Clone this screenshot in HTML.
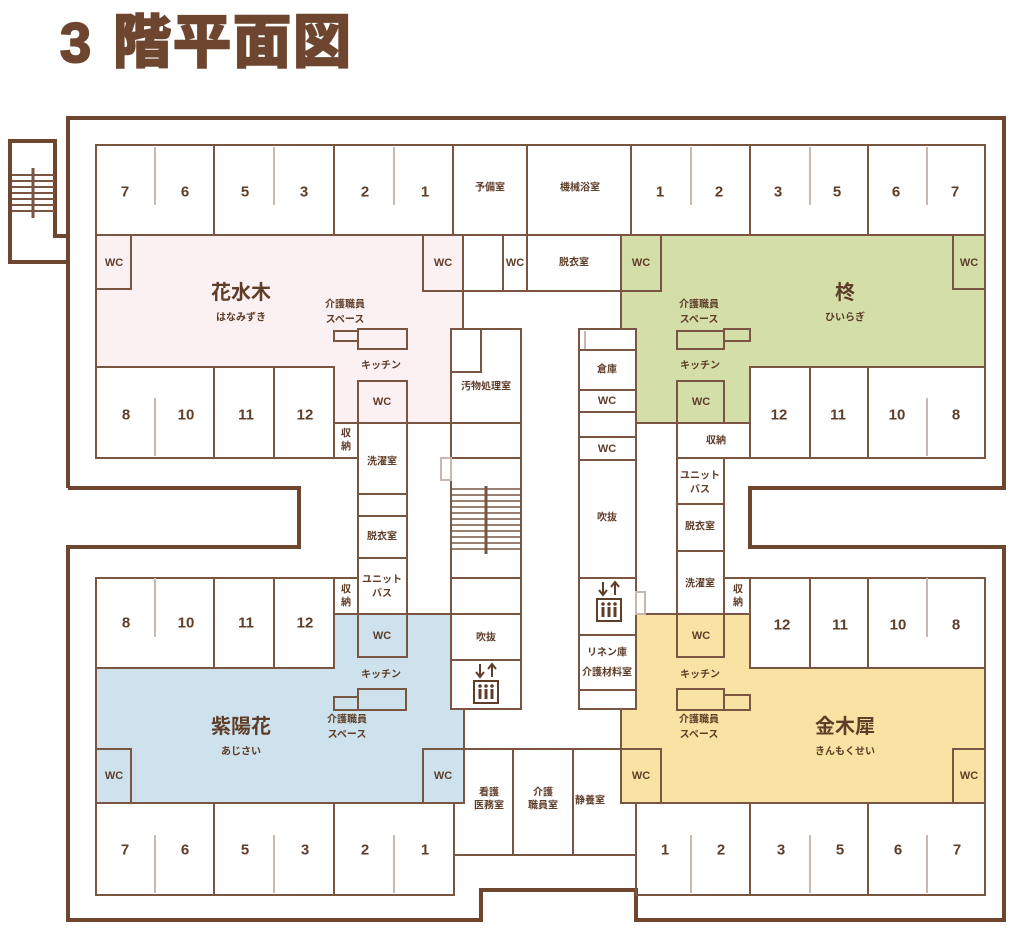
<!DOCTYPE html>
<html><head><meta charset="utf-8"><style>
html,body{margin:0;padding:0;background:#fff;}
svg{display:block;}
text{font-family:"Liberation Sans","Noto Sans CJK JP",sans-serif;font-weight:bold;fill:#5e3d29;}
</style></head><body>
<svg width="1024" height="932" viewBox="0 0 1024 932" xmlns="http://www.w3.org/2000/svg">
<text x="60" y="62" font-size="56" style="fill:#6e4630;stroke:#6e4630;stroke-width:2" font-family="Liberation Sans">3</text>
<text x="113" y="62" font-size="58" style="fill:#6e4630;stroke:#6e4630;stroke-width:2.5;letter-spacing:2px" font-family="Noto Sans CJK JP">階平面図</text>

<!-- colored zones -->
<polygon points="96,235 463,235 463,329 451,329 451,423 334,423 334,367 96,367" fill="#fcf1f2"/>
<polygon points="621,235 985,235 985,367 750,367 750,423 636,423 636,329 621,329" fill="#d3dea9"/>
<polygon points="96,668 334,668 334,614 451,614 451,709 464,709 464,803 96,803" fill="#cde2ec"/>
<polygon points="636,614 750,614 750,668 985,668 985,803 621,803 621,709 636,709" fill="#f8e3a4"/>

<!-- outer wall -->
<g fill="none" stroke="#6e4630" stroke-width="4">
<polyline points="68,488 68,118 1004,118 1004,488 750,488 750,547 1004,547 1004,920 636,920 636,890 481,890 481,920 68,920 68,547 299,547 299,488 68,488"/>
<polyline points="68,236 55,236 55,141 10,141 10,262 68,262"/>
</g>
<g stroke="#7a5642" stroke-width="2">
<line x1="12" y1="175" x2="55" y2="175"/><line x1="12" y1="181" x2="55" y2="181"/><line x1="12" y1="187" x2="55" y2="187"/><line x1="12" y1="193" x2="55" y2="193"/><line x1="12" y1="199" x2="55" y2="199"/><line x1="12" y1="205" x2="55" y2="205"/><line x1="12" y1="211" x2="55" y2="211"/>
<line x1="33" y1="168" x2="33" y2="218" stroke-width="3"/>
</g>

<g fill="none" stroke="#7a5642" stroke-width="2">
<rect x="96" y="145" width="889" height="90"/>
<line x1="214" y1="145" x2="214" y2="235"/><line x1="334" y1="145" x2="334" y2="235"/><line x1="453" y1="145" x2="453" y2="235"/><line x1="527" y1="145" x2="527" y2="291"/><line x1="631" y1="145" x2="631" y2="235"/><line x1="750" y1="145" x2="750" y2="235"/><line x1="868" y1="145" x2="868" y2="235"/>
<polyline points="96,235 96,367 334,367 334,458"/>
<line x1="463" y1="235" x2="463" y2="329"/>
<rect x="96" y="235" width="35" height="54"/><rect x="423" y="235" width="40" height="56"/>
<rect x="334" y="331" width="24" height="10"/><rect x="358" y="329" width="49" height="20"/>
<rect x="358" y="381" width="49" height="42"/>
<line x1="334" y1="423" x2="521" y2="423"/>
<rect x="96" y="367" width="238" height="91"/>
<line x1="214" y1="367" x2="214" y2="458"/><line x1="274" y1="367" x2="274" y2="458"/>
<line x1="463" y1="291" x2="621" y2="291"/>
<rect x="503" y="235" width="24" height="56"/><line x1="527" y1="235" x2="621" y2="235"/>
<line x1="334" y1="458" x2="358" y2="458"/>
<line x1="358" y1="423" x2="358" y2="657"/><line x1="407" y1="423" x2="407" y2="657"/>
<line x1="358" y1="494" x2="407" y2="494"/><line x1="358" y1="516" x2="407" y2="516"/><line x1="358" y1="558" x2="407" y2="558"/>
<rect x="334" y="578" width="24" height="36"/>
<line x1="334" y1="614" x2="451" y2="614"/>
<rect x="358" y="614" width="49" height="43"/>
<rect x="451" y="329" width="70" height="380"/>
<rect x="451" y="329" width="30" height="43"/>
<line x1="451" y1="458" x2="521" y2="458"/><line x1="451" y1="578" x2="521" y2="578"/><line x1="451" y1="614" x2="521" y2="614"/><line x1="451" y1="660" x2="521" y2="660"/>
<rect x="579" y="329" width="57" height="380"/>
<line x1="585" y1="331" x2="585" y2="350" stroke="#c9b8ad"/>
<line x1="579" y1="350" x2="636" y2="350"/><line x1="579" y1="390" x2="636" y2="390"/><line x1="579" y1="412" x2="636" y2="412"/><line x1="579" y1="437" x2="636" y2="437"/><line x1="579" y1="460" x2="636" y2="460"/><line x1="579" y1="578" x2="636" y2="578"/><line x1="579" y1="635" x2="636" y2="635"/><line x1="579" y1="690" x2="636" y2="690"/>
<polyline points="621,235 621,329"/>
<rect x="621" y="235" width="40" height="56"/><rect x="953" y="235" width="32" height="54"/>
<rect x="677" y="331" width="47" height="18"/><rect x="724" y="329" width="26" height="12"/>
<rect x="677" y="381" width="47" height="42"/>
<line x1="985" y1="235" x2="985" y2="367"/>
<rect x="750" y="367" width="235" height="91"/>
<line x1="810" y1="367" x2="810" y2="458"/><line x1="868" y1="367" x2="868" y2="458"/>
<line x1="636" y1="423" x2="750" y2="423"/><line x1="677" y1="458" x2="750" y2="458"/>
<line x1="677" y1="423" x2="677" y2="657"/><line x1="724" y1="458" x2="724" y2="657"/>
<line x1="677" y1="504" x2="724" y2="504"/><line x1="677" y1="551" x2="724" y2="551"/>
<rect x="724" y="578" width="26" height="36"/>
<line x1="636" y1="614" x2="750" y2="614"/>
<rect x="677" y="614" width="47" height="43"/>
<rect x="96" y="578" width="238" height="90"/>
<line x1="214" y1="578" x2="214" y2="668"/><line x1="274" y1="578" x2="274" y2="668"/>
<line x1="451" y1="709" x2="464" y2="709"/><line x1="464" y1="709" x2="464" y2="803"/>
<rect x="96" y="749" width="35" height="54"/><rect x="423" y="749" width="41" height="54"/>
<rect x="334" y="697" width="24" height="13"/><rect x="358" y="689" width="48" height="21"/>
<line x1="96" y1="668" x2="96" y2="895"/>
<rect x="96" y="803" width="358" height="92"/>
<line x1="214" y1="803" x2="214" y2="895"/><line x1="334" y1="803" x2="334" y2="895"/>
<line x1="454" y1="855" x2="636" y2="855"/>
<line x1="464" y1="749" x2="621" y2="749"/>
<line x1="513" y1="749" x2="513" y2="855"/><line x1="573" y1="749" x2="573" y2="855"/>
<line x1="621" y1="709" x2="636" y2="709"/><line x1="621" y1="709" x2="621" y2="803"/>
<rect x="750" y="578" width="235" height="90"/>
<line x1="810" y1="578" x2="810" y2="668"/><line x1="868" y1="578" x2="868" y2="668"/>
<line x1="985" y1="668" x2="985" y2="803"/>
<rect x="621" y="749" width="40" height="54"/><rect x="953" y="749" width="32" height="54"/>
<rect x="677" y="689" width="47" height="21"/><rect x="724" y="695" width="26" height="15"/>
<rect x="636" y="803" width="349" height="92"/>
<line x1="750" y1="803" x2="750" y2="895"/><line x1="868" y1="803" x2="868" y2="895"/>
<line x1="621" y1="803" x2="636" y2="803"/>
</g>
<g stroke="#c9b8ad" stroke-width="2" fill="none">
<line x1="155" y1="147" x2="155" y2="205"/><line x1="274" y1="147" x2="274" y2="205"/><line x1="394" y1="147" x2="394" y2="205"/>
<line x1="691" y1="147" x2="691" y2="205"/><line x1="810" y1="147" x2="810" y2="205"/><line x1="927" y1="147" x2="927" y2="205"/>
<line x1="155" y1="398" x2="155" y2="456"/><line x1="927" y1="398" x2="927" y2="456"/>
<line x1="155" y1="578" x2="155" y2="637"/><line x1="927" y1="578" x2="927" y2="637"/>
<line x1="155" y1="835" x2="155" y2="893"/><line x1="274" y1="835" x2="274" y2="893"/><line x1="394" y1="835" x2="394" y2="893"/>
<line x1="691" y1="835" x2="691" y2="893"/><line x1="810" y1="835" x2="810" y2="893"/><line x1="927" y1="835" x2="927" y2="893"/>
<rect x="441" y="458" width="10" height="22"/><rect x="636" y="592" width="9" height="22"/>
</g>
<g stroke="#7a5642" stroke-width="1.5">
<line x1="451" y1="489" x2="521" y2="489"/><line x1="451" y1="495" x2="521" y2="495"/><line x1="451" y1="501" x2="521" y2="501"/><line x1="451" y1="507" x2="521" y2="507"/><line x1="451" y1="513" x2="521" y2="513"/><line x1="451" y1="519" x2="521" y2="519"/><line x1="451" y1="525" x2="521" y2="525"/><line x1="451" y1="531" x2="521" y2="531"/><line x1="451" y1="537" x2="521" y2="537"/><line x1="451" y1="543" x2="521" y2="543"/><line x1="451" y1="549" x2="521" y2="549"/>
<line x1="486" y1="486" x2="486" y2="554" stroke-width="3"/>
</g>
<g stroke="#5e3d29" fill="none" stroke-width="2">
<path d="M480,664 v12 M476,672 l4,5 4,-5 M492,677 v-12 M488,669 l4,-5 4,5"/>
<rect x="474" y="681" width="24" height="22"/>
<g fill="#5e3d29" stroke="none"><circle cx="480" cy="686" r="1.8"/><circle cx="486" cy="686" r="1.8"/><circle cx="492" cy="686" r="1.8"/><rect x="478.5" y="689" width="3" height="10"/><rect x="484.5" y="689" width="3" height="10"/><rect x="490.5" y="689" width="3" height="10"/></g>
</g>
<g stroke="#5e3d29" fill="none" stroke-width="2" transform="translate(123,-82)">
<path d="M480,664 v12 M476,672 l4,5 4,-5 M492,677 v-12 M488,669 l4,-5 4,5"/>
<rect x="474" y="681" width="24" height="22"/>
<g fill="#5e3d29" stroke="none"><circle cx="480" cy="686" r="1.8"/><circle cx="486" cy="686" r="1.8"/><circle cx="492" cy="686" r="1.8"/><rect x="478.5" y="689" width="3" height="10"/><rect x="484.5" y="689" width="3" height="10"/><rect x="490.5" y="689" width="3" height="10"/></g>
</g>

<g text-anchor="middle" dominant-baseline="central">
<g font-size="15">
<text x="125" y="192">7</text><text x="185" y="192">6</text><text x="245" y="192">5</text><text x="304" y="192">3</text><text x="365" y="192">2</text><text x="425" y="192">1</text>
<text x="660" y="192">1</text><text x="719" y="192">2</text><text x="778" y="192">3</text><text x="837" y="192">5</text><text x="896" y="192">6</text><text x="955" y="192">7</text>
<text x="126" y="415">8</text><text x="186" y="415">10</text><text x="246" y="415">11</text><text x="305" y="415">12</text>
<text x="779" y="415">12</text><text x="838" y="415">11</text><text x="897" y="415">10</text><text x="956" y="415">8</text>
<text x="126" y="623">8</text><text x="186" y="623">10</text><text x="246" y="623">11</text><text x="305" y="623">12</text>
<text x="782" y="625">12</text><text x="840" y="625">11</text><text x="898" y="625">10</text><text x="956" y="625">8</text>
<text x="125" y="850">7</text><text x="185" y="850">6</text><text x="245" y="850">5</text><text x="305" y="850">3</text><text x="365" y="850">2</text><text x="425" y="850">1</text>
<text x="665" y="850">1</text><text x="721" y="850">2</text><text x="781" y="850">3</text><text x="840" y="850">5</text><text x="898" y="850">6</text><text x="957" y="850">7</text>
</g>
<g font-size="11">
<text x="114" y="263">WC</text><text x="443" y="263">WC</text><text x="515" y="263">WC</text><text x="641" y="263">WC</text><text x="969" y="263">WC</text>
<text x="382" y="402">WC</text><text x="607" y="401">WC</text><text x="607" y="449">WC</text><text x="701" y="402">WC</text>
<text x="382" y="636">WC</text><text x="701" y="636">WC</text>
<text x="114" y="776">WC</text><text x="443" y="776">WC</text><text x="641" y="776">WC</text><text x="969" y="776">WC</text>
</g>
<g font-size="10">
<text x="490" y="188">予備室</text><text x="580" y="188">機械浴室</text><text x="574" y="263">脱衣室</text>
<text x="345" y="305">介護職員</text><text x="345" y="320">スペース</text><text x="381" y="366">キッチン</text>
<text x="699" y="305">介護職員</text><text x="699" y="320">スペース</text><text x="700" y="366">キッチン</text>
<text x="486" y="387">汚物処理室</text><text x="607" y="370">倉庫</text><text x="607" y="518">吹抜</text>
<text x="346" y="434">収</text><text x="346" y="447">納</text>
<text x="382" y="462">洗濯室</text><text x="382" y="537">脱衣室</text><text x="382" y="580">ユニット</text><text x="382" y="594">バス</text>
<text x="346" y="590">収</text><text x="346" y="603">納</text>
<text x="716" y="441">収納</text>
<text x="700" y="476">ユニット</text><text x="700" y="490">バス</text><text x="700" y="527">脱衣室</text><text x="700" y="584">洗濯室</text>
<text x="738" y="590">収</text><text x="738" y="603">納</text>
<text x="486" y="638">吹抜</text><text x="607" y="653">リネン庫</text><text x="607" y="673">介護材料室</text>
<text x="381" y="675">キッチン</text><text x="347" y="720">介護職員</text><text x="347" y="735">スペース</text>
<text x="700" y="675">キッチン</text><text x="699" y="720">介護職員</text><text x="699" y="735">スペース</text>
<text x="489" y="793">看護</text><text x="489" y="806">医務室</text><text x="543" y="793">介護</text><text x="543" y="806">職員室</text><text x="590" y="801">静養室</text>
<text x="241" y="318">はなみずき</text><text x="845" y="318">ひいらぎ</text><text x="241" y="752">あじさい</text><text x="845" y="752">きんもくせい</text>
</g>
<g font-size="20">
<text x="241" y="293">花水木</text><text x="845" y="293">柊</text><text x="241" y="727">紫陽花</text><text x="845" y="727">金木犀</text>
</g>
</g>
</svg>
</body></html>
